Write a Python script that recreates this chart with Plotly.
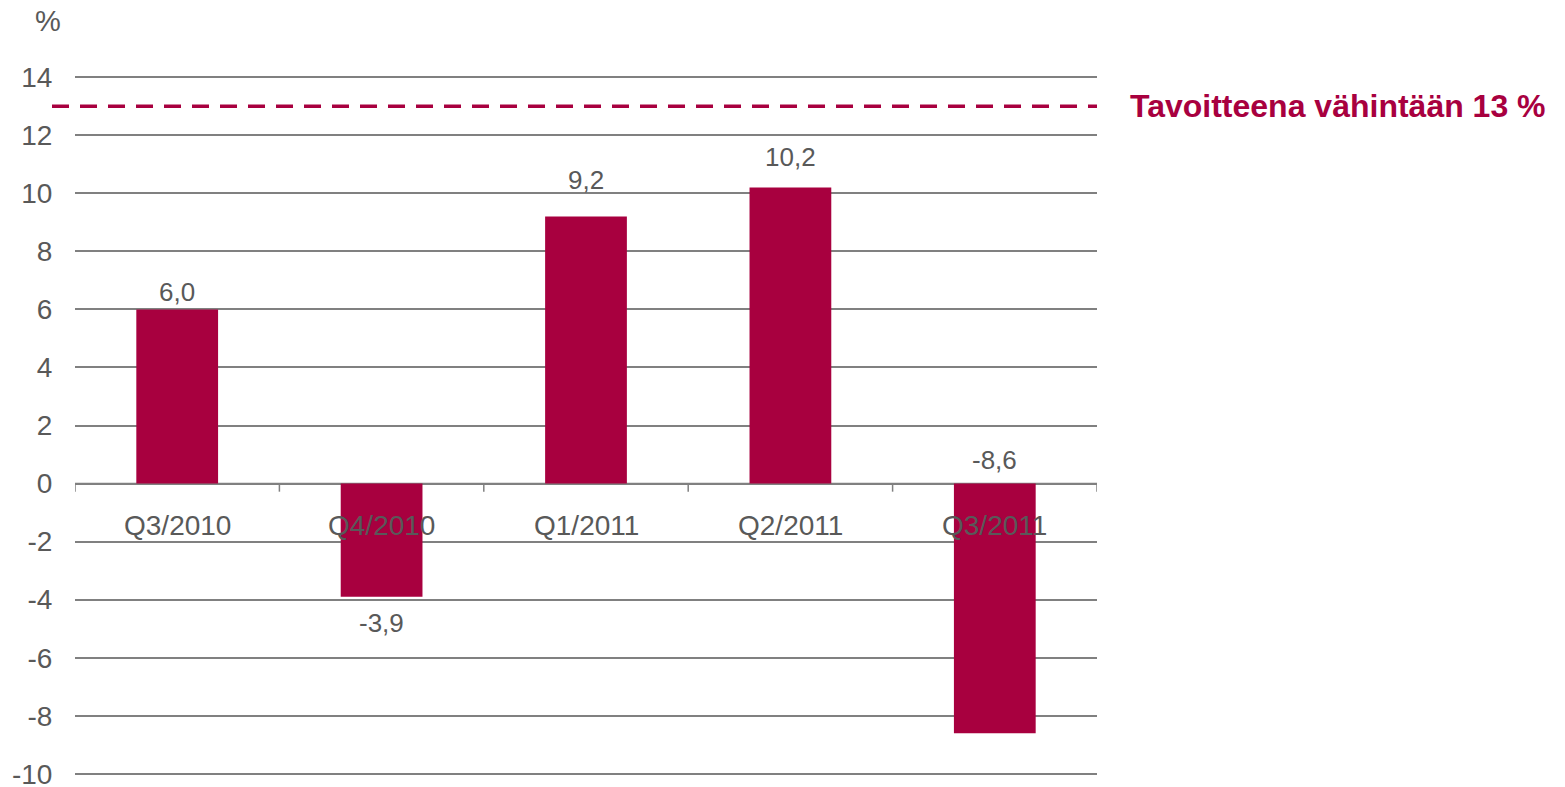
import plotly.graph_objects as go

# Data
categories = ["Q3/2010", "Q4/2010", "Q1/2011", "Q2/2011", "Q3/2011"]
values = [6.0, -3.9, 9.2, 10.2, -8.6]
value_labels = ["6,0", "-3,9", "9,2", "10,2", "-8,6"]
target_value = 13
target_label = "Tavoitteena vähintään 13 %"
y_ticks = [-10, -8, -6, -4, -2, 0, 2, 4, 6, 8, 10, 12, 14]

# Styles
bar_color = "#A8003F"
text_color = "#595959"
grid_color = "#808080"
font_family = "Liberation Sans, Arial, sans-serif"

# label placement: anchor on value or on zero line, plus pixel shift
label_anchor_zero = [False, False, False, False, True]
label_shift = [17, -26, 37, 30, 24]

fig = go.Figure()
fig.add_trace(go.Bar(
    x=categories, y=values, marker_color=bar_color, marker_line_width=0,
    width=0.4, hoverinfo="skip",
))

annotations = []
for c, v, t, z, s in zip(categories, values, value_labels, label_anchor_zero, label_shift):
    annotations.append(dict(
        x=c, y=0 if z else v, xref="x", yref="y", text=t, showarrow=False,
        yanchor="middle", yshift=s, font=dict(size=26, color=text_color, family=font_family),
    ))
# category labels below zero line
for c in categories:
    annotations.append(dict(
        x=c, y=0, xref="x", yref="y", text=c, showarrow=False,
        yanchor="middle", yshift=-42, font=dict(size=28, color=text_color, family=font_family),
    ))
annotations.append(dict(
    x=0, y=1, xref="paper", yref="paper", text="%", showarrow=False,
    xanchor="right", yanchor="middle", xshift=-12, yshift=55,
    font=dict(size=29, color=text_color, family=font_family),
))
annotations.append(dict(
    x=1, y=target_value, xref="paper", yref="y", text="<b>" + target_label + "</b>",
    showarrow=False, xanchor="left", yanchor="middle", xshift=31,
    font=dict(size=32, color=bar_color, family=font_family),
))

shapes = [
    dict(type="line", xref="paper", yref="y", x0=-0.0225, x1=1, y0=target_value, y1=target_value,
         line=dict(color=bar_color, width=3.5, dash="17px,11px"), layer="above"),
    dict(type="line", xref="paper", yref="y", x0=0, x1=1, y0=0, y1=0,
         line=dict(color=grid_color, width=1.5), layer="below"),
]
n = len(categories)
for i in range(n + 1):
    shapes.append(dict(type="line", xref="x", yref="y", x0=i - 0.5, x1=i - 0.5, y0=0, y1=-0.28,
                       line=dict(color=grid_color, width=1.5), layer="below"))

fig.update_layout(
    width=1565, height=787,
    margin=dict(l=75, r=468, t=76, b=12, autoexpand=False),
    plot_bgcolor="white", paper_bgcolor="white",
    showlegend=False, bargap=0.6,
    xaxis=dict(showticklabels=False, showgrid=False, zeroline=False, showline=False,
               range=[-0.5, n - 0.5], fixedrange=True),
    yaxis=dict(range=[-10.04, 14.04], tickvals=y_ticks, ticktext=[str(t) for t in y_ticks],
               showgrid=True, gridcolor=grid_color, gridwidth=1.5, zeroline=False,
               ticks="outside", ticklen=16, tickcolor="rgba(0,0,0,0)", automargin=False,
               ticklabeloverflow="allow",
               tickfont=dict(size=28, color=text_color, family=font_family), fixedrange=True),
    annotations=annotations, shapes=shapes,
)

fig.write_html("out.html", config={"displayModeBar": False},
               post_script="document.body.style.margin='0';document.body.style.overflow='hidden';")
